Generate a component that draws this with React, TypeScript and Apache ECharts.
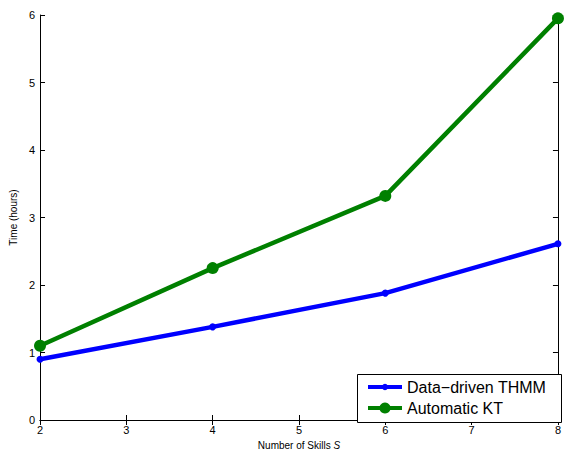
import React, { useEffect, useRef } from "react";
import * as echarts from "echarts";

const skills = [2, 4, 6, 8];
const thmmTimes = [0.9, 1.38, 1.88, 2.61];
const autoKtTimes = [1.1, 2.25, 3.32, 5.95];
const xTicks = [2, 3, 4, 5, 6, 7, 8];
const yTicks = [0, 1, 2, 3, 4, 5, 6];
const seriesNames = ["Data\u2212driven THMM", "Automatic KT"];

const FONT = "Liberation Sans, Arial, Helvetica, sans-serif";

export default function App() {
  const ref = useRef<HTMLDivElement>(null);
  useEffect(() => {
    if (!ref.current) return;
    const chart = echarts.init(ref.current, null, { renderer: "svg" });
    const axisLine = { show: true, lineStyle: { color: "#000", width: 1 } };
    const tickStyle = { show: true, inside: true, length: 5, lineStyle: { color: "#000", width: 1 } };
    const legendText = { fontSize: 16, color: "#000", fontFamily: FONT, lineHeight: 16 };
    chart.setOption({
      animation: false,
      backgroundColor: "#fff",
      textStyle: { fontFamily: FONT },
      grid: { left: 39, right: 3, top: 15, bottom: 29, containLabel: false },
      xAxis: [
        {
          type: "value",
          min: xTicks[0],
          max: xTicks[xTicks.length - 1],
          interval: 1,
          position: "bottom",
          axisLine,
          axisTick: tickStyle,
          splitLine: { show: false },
          axisLabel: { color: "#000", fontSize: 11, margin: 4, fontFamily: FONT },
          name: "{a|Number of Skills }{b|S}",
          nameLocation: "middle",
          nameGap: 20,
          nameTextStyle: {
            rich: {
              a: { fontSize: 10, color: "#000", fontFamily: FONT },
              b: { fontSize: 10, color: "#000", fontStyle: "italic", fontFamily: FONT },
            },
          },
        },
        {
          type: "value",
          min: xTicks[0],
          max: xTicks[xTicks.length - 1],
          interval: 1,
          position: "top",
          axisLine,
          axisTick: tickStyle,
          splitLine: { show: false },
          axisLabel: { show: false },
        },
      ],
      yAxis: [
        {
          type: "value",
          min: yTicks[0],
          max: yTicks[yTicks.length - 1],
          interval: 1,
          position: "left",
          axisLine,
          axisTick: tickStyle,
          splitLine: { show: false },
          axisLabel: { color: "#000", fontSize: 11, margin: 5, fontFamily: FONT },
          name: "Time (hours)",
          nameLocation: "middle",
          nameGap: 17,
          nameTextStyle: { fontSize: 10, color: "#000", fontFamily: FONT },
        },
        {
          type: "value",
          min: yTicks[0],
          max: yTicks[yTicks.length - 1],
          interval: 1,
          position: "right",
          axisLine,
          axisTick: tickStyle,
          splitLine: { show: false },
          axisLabel: { show: false },
        },
      ],
      graphic: [
        {
          type: "rect",
          left: 357,
          top: 374,
          z: 10,
          shape: { width: 204, height: 48 },
          style: { fill: "#fff", stroke: "#000", lineWidth: 1 },
        },
      ],
      legend: [
        {
          orient: "vertical",
          left: 366,
          top: 379,
          data: [seriesNames[0]],
          padding: 0,
          itemWidth: 34,
          itemHeight: 8,
          itemGap: 0,
          z: 20,
          lineStyle: { width: 4 },
          textStyle: legendText,
        },
        {
          orient: "vertical",
          left: 366,
          top: 400,
          data: [seriesNames[1]],
          padding: 0,
          itemWidth: 34,
          itemHeight: 14,
          itemGap: 0,
          z: 20,
          lineStyle: { width: 4 },
          textStyle: legendText,
        },
      ],
      series: [
        {
          name: seriesNames[0],
          type: "line",
          data: skills.map((s, i) => [s, thmmTimes[i]]),
          color: "#0000ff",
          lineStyle: { width: 4.5, color: "#0000ff" },
          symbol: "circle",
          symbolSize: 7,
          itemStyle: { color: "#0000ff" },
          showSymbol: true,
          z: 3,
        },
        {
          name: seriesNames[1],
          type: "line",
          data: skills.map((s, i) => [s, autoKtTimes[i]]),
          color: "#008000",
          lineStyle: { width: 4.5, color: "#008000" },
          symbol: "circle",
          symbolSize: 12,
          itemStyle: { color: "#008000" },
          showSymbol: true,
          z: 4,
        },
      ],
    });
    return () => chart.dispose();
  }, []);
  return (
    <div
      ref={ref}
      style={{ position: "absolute", left: 0, top: 0, width: 564, height: 455, background: "#fff" }}
    />
  );
}
